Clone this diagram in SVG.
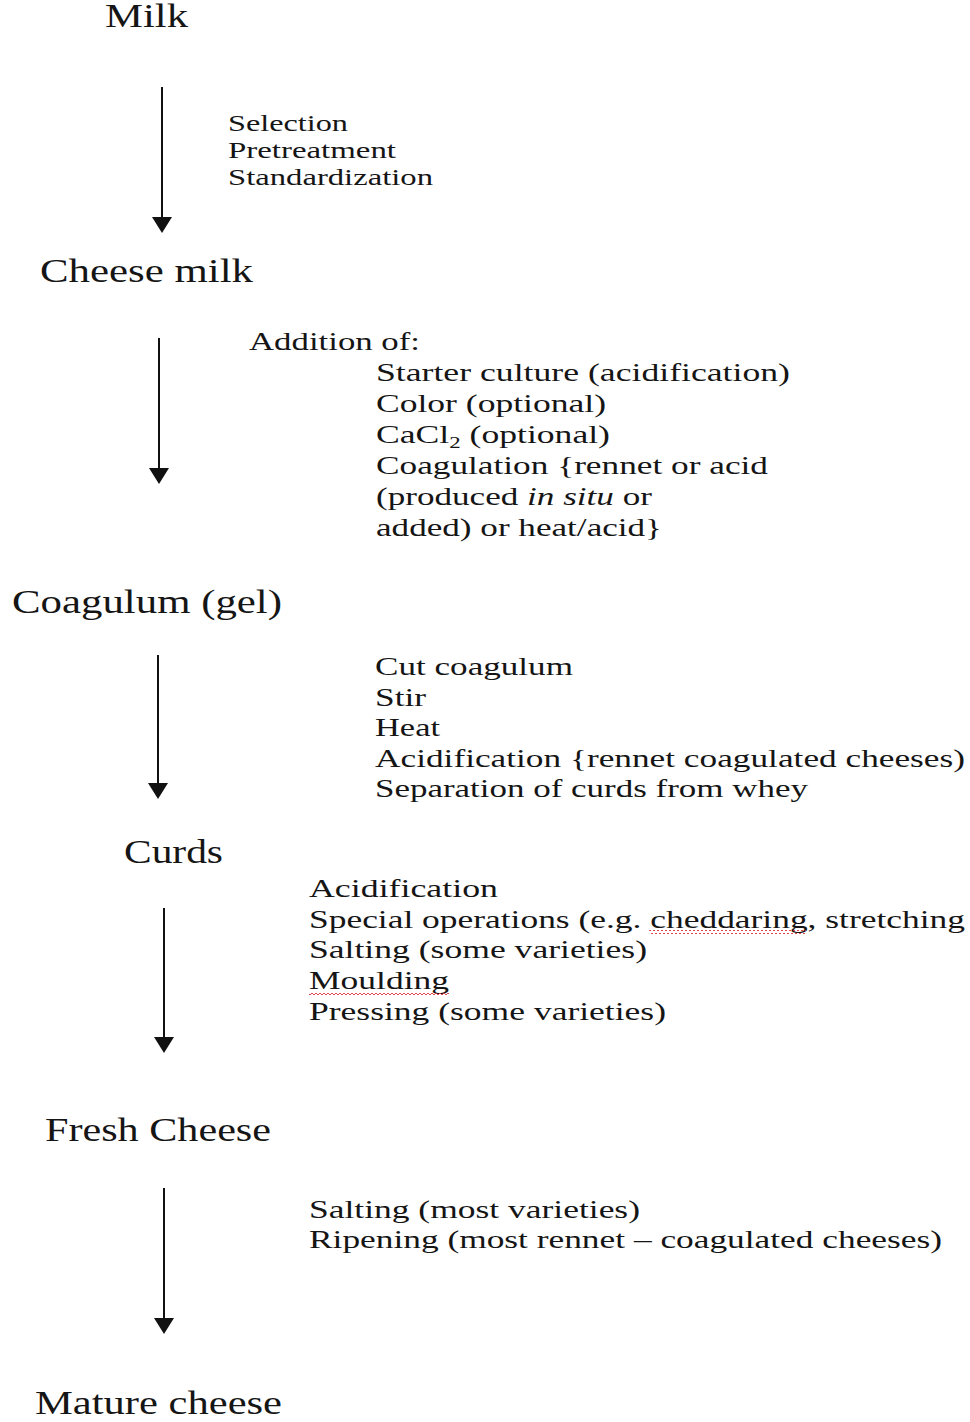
<svg xmlns="http://www.w3.org/2000/svg" width="970" height="1422" viewBox="0 0 970 1422">
<style>
  text { font-family: "Liberation Serif", "Times New Roman", serif; fill: #151515; }
  .main { font-size: 33px; }
  .s1 { font-size: 23px; }
  .s2 { font-size: 25px; }
  .conn line { stroke: #111; stroke-width: 2; }
</style>
<defs>
  <marker id="ah" markerUnits="userSpaceOnUse" viewBox="0 -10 16 20" refX="0" refY="0" markerWidth="16" markerHeight="20" orient="auto">
    <path d="M0,-10 L16,0 L0,10 z" fill="#111"/>
  </marker>
  <pattern id="wavy" patternUnits="userSpaceOnUse" width="4" height="4">
    <path d="M0,1 L2,3 L4,1" fill="none" stroke="#e0303a" stroke-width="0.9"/>
  </pattern>
</defs>
<rect width="970" height="1422" fill="#ffffff"/>

<g id="milk"><text class="main" x="105" y="27" textLength="83" lengthAdjust="spacingAndGlyphs">Milk</text></g>
<g id="step1">
  <text class="s1" x="228" y="131" textLength="120" lengthAdjust="spacingAndGlyphs">Selection</text>
  <text class="s1" x="228" y="158" textLength="168" lengthAdjust="spacingAndGlyphs">Pretreatment</text>
  <text class="s1" x="228" y="185" textLength="205" lengthAdjust="spacingAndGlyphs">Standardization</text>
</g>
<g id="cheese-milk"><text class="main" x="40" y="282" textLength="213" lengthAdjust="spacingAndGlyphs">Cheese milk</text></g>
<g id="step2">
  <text class="s2" x="249" y="350" textLength="171" lengthAdjust="spacingAndGlyphs">Addition of:</text>
  <text class="s2" x="376" y="381" textLength="414" lengthAdjust="spacingAndGlyphs">Starter culture (acidification)</text>
  <text class="s2" x="376" y="412" textLength="230" lengthAdjust="spacingAndGlyphs">Color (optional)</text>
  <text class="s2" x="376" y="443" textLength="234" lengthAdjust="spacingAndGlyphs">CaCl<tspan font-size="16" dy="5">2</tspan><tspan dy="-5"> (optional)</tspan></text>
  <text class="s2" x="376" y="474" textLength="392" lengthAdjust="spacingAndGlyphs">Coagulation {rennet or acid</text>
  <text class="s2" x="376" y="505" textLength="276" lengthAdjust="spacingAndGlyphs">(produced <tspan font-style="italic">in situ</tspan> or</text>
  <text class="s2" x="376" y="536" textLength="286" lengthAdjust="spacingAndGlyphs">added) or heat/acid}</text>
</g>
<g id="coagulum"><text class="main" x="12" y="613" textLength="270" lengthAdjust="spacingAndGlyphs">Coagulum (gel)</text></g>
<g id="step3">
  <text class="s2" x="375" y="675" textLength="198" lengthAdjust="spacingAndGlyphs">Cut coagulum</text>
  <text class="s2" x="375" y="706" textLength="51" lengthAdjust="spacingAndGlyphs">Stir</text>
  <text class="s2" x="375" y="736" textLength="65" lengthAdjust="spacingAndGlyphs">Heat</text>
  <text class="s2" x="375" y="767" textLength="590" lengthAdjust="spacingAndGlyphs">Acidification {rennet coagulated cheeses)</text>
  <text class="s2" x="375" y="797" textLength="433" lengthAdjust="spacingAndGlyphs">Separation of curds from whey</text>
</g>
<g id="curds"><text class="main" x="124" y="863" textLength="99" lengthAdjust="spacingAndGlyphs">Curds</text></g>
<g id="step4">
  <text class="s2" x="309" y="897" textLength="189" lengthAdjust="spacingAndGlyphs">Acidification</text>
  <text class="s2" x="309" y="928" textLength="656" lengthAdjust="spacingAndGlyphs">Special operations (e.g. cheddaring, stretching</text>
  <rect x="649" y="930" width="157" height="4" fill="url(#wavy)"/>
  <text class="s2" x="309" y="958" textLength="338" lengthAdjust="spacingAndGlyphs">Salting (some varieties)</text>
  <text class="s2" x="309" y="989" textLength="140" lengthAdjust="spacingAndGlyphs">Moulding</text>
  <rect x="309" y="991" width="140" height="4" fill="url(#wavy)"/>
  <text class="s2" x="309" y="1020" textLength="357" lengthAdjust="spacingAndGlyphs">Pressing (some varieties)</text>
</g>
<g id="fresh-cheese"><text class="main" x="45" y="1141" textLength="226" lengthAdjust="spacingAndGlyphs">Fresh Cheese</text></g>
<g id="step5">
  <text class="s2" x="309" y="1218" textLength="331" lengthAdjust="spacingAndGlyphs">Salting (most varieties)</text>
  <text class="s2" x="309" y="1248" textLength="633" lengthAdjust="spacingAndGlyphs">Ripening (most rennet – coagulated cheeses)</text>
</g>
<g id="mature-cheese"><text class="main" x="35" y="1414" textLength="247" lengthAdjust="spacingAndGlyphs">Mature cheese</text></g>

<g id="connectors" class="conn">
  <line x1="162" y1="87" x2="162" y2="217" marker-end="url(#ah)"/>
  <line x1="159" y1="338" x2="159" y2="468" marker-end="url(#ah)"/>
  <line x1="158" y1="655" x2="158" y2="783" marker-end="url(#ah)"/>
  <line x1="164" y1="908" x2="164" y2="1037" marker-end="url(#ah)"/>
  <line x1="164" y1="1188" x2="164" y2="1318" marker-end="url(#ah)"/>
</g>
</svg>
